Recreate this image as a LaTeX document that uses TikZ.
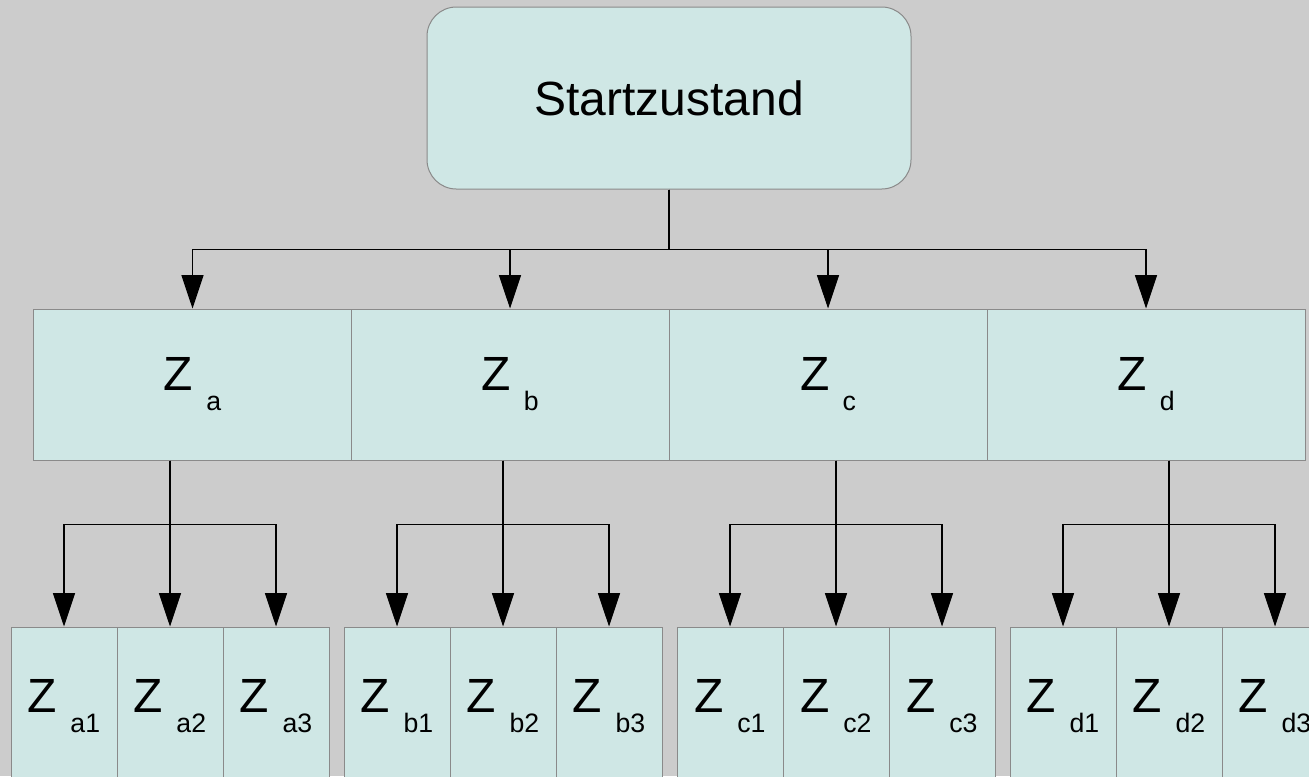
\documentclass[tikz,border=0pt]{standalone}
\usepackage{fontspec}
\setmainfont{Liberation Sans}
\usepackage{xcolor}
\usetikzlibrary{arrows.meta}
\definecolor{bggray}{HTML}{CCCCCC}
\definecolor{statefill}{HTML}{CFE7E5}
\definecolor{stateline}{HTML}{8A8A8A}
\tikzset{%
    state/.style={draw=stateline, fill=statefill, line width=0.75pt, inner sep=0pt,
        font=\fontsize{36}{40}\selectfont},
    link/.style={line width=0.8pt, -{Triangle[length=25pt,width=16.5pt]}}
}
\newcommand{\zstate}[1]{Z \raisebox{-15pt}{\fontsize{20}{22}\selectfont #1}}

\begin{document}
\begin{tikzpicture}[x=0.75pt,y=-0.75pt]
    \fill[bggray] (0,0) rectangle (1309,776);
    \useasboundingbox (0,0) rectangle (1309,776);
    \node[state, rounded corners=22pt, minimum width=363pt, minimum height=136.5pt] (start) at (669,98) {Startzustand};
    \foreach \n/\x in {a/192.5,b/510,c/828,d/1146}
    {
    \node[state, minimum width=238.5pt, minimum height=113.25pt] (z\n) at (\x,384.5) {\zstate{\n}};
    \draw[link] (start.south) -- ++(0,60) -| (z\n.north);
    }
    \begin{scope}
    \clip (0,0) rectangle (1309,776);
    \foreach \n/\x in {a/170,b/503,c/836,d/1169}
    {
    \foreach \i/\dx in {1/-106,2/0,3/106}
    {
    \node[state, minimum width=79.5pt, minimum height=118.5pt] (z\n\i) at (\x+\dx,706) {\zstate{\n\i}};
    }
    \foreach \i in {1,2,3}
    {
    \draw[link] (z\n2.north |- z\n.south) -- ++(0,64) -| (z\n\i.north);
    }
    }
    \end{scope}
\end{tikzpicture}
\end{document}
